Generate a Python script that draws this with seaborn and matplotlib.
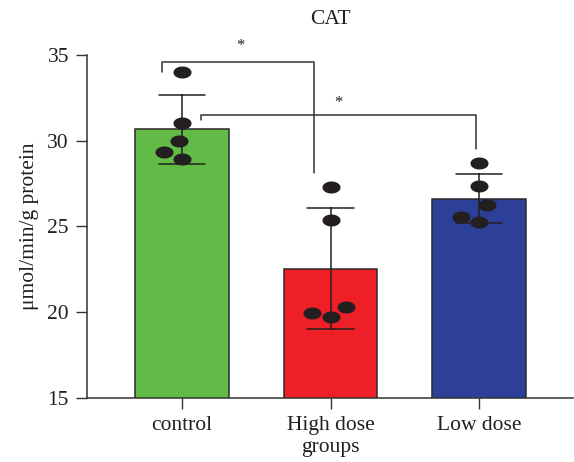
import numpy as np
import pandas as pd
import matplotlib
matplotlib.use("Agg")
import matplotlib.pyplot as plt
from matplotlib.path import Path
import seaborn as sns

# ---- data ----
groups = ["control", "High dose\ngroups", "Low dose"]
control_vals = [34.0, 31.03, 29.98, 29.34, 28.94]
high_vals = [27.29, 25.40, 20.33, 19.74, 19.94]
low_vals = [28.68, 27.38, 26.25, 25.28, 25.57]
bar_colors = ["#63BB47", "#EE1F26", "#2C4098"]
yticks = [15, 20, 25, 30, 35]

df = pd.DataFrame({
    "group": [groups[0]] * len(control_vals) + [groups[1]] * len(high_vals) + [groups[2]] * len(low_vals),
    "value": control_vals + high_vals + low_vals,
})

sns.set_theme(style="ticks")
plt.rcParams["font.family"] = ["Liberation Serif", "DejaVu Serif"]
plt.rcParams["axes.linewidth"] = 1.1
plt.rcParams["axes.edgecolor"] = "#333333"

fig = plt.figure(figsize=(5.74, 4.62), dpi=100)
ax = fig.add_axes([87 / 574, 1 - 398 / 462, (573 - 87) / 574, (398 - 55) / 462])

sns.barplot(data=df, x="group", y="value", hue="group", palette=bar_colors,
            order=groups, hue_order=groups, legend=False, saturation=1,
            errorbar="sd", capsize=0.31, width=0.63,
            err_kws={"color": "#231F20", "linewidth": 1.1},
            edgecolor="#2a2a2a", linewidth=1.1, ax=ax)

# ellipse marker
t = np.linspace(0, 2 * np.pi, 60)
ellipse = Path(np.column_stack([1.5 * np.cos(t), np.sin(t)]), closed=True)
sns.swarmplot(data=df, x="group", y="value", order=groups, color="#231F20",
              marker=ellipse, size=13, linewidth=0, zorder=4, ax=ax)

ax.set_ylim(15, 35)
ax.set_xlim(-0.637, 2.63)
ax.set_yticks(yticks)
ax.set_yticklabels([str(v) for v in yticks])
ax.tick_params(axis="both", length=8, width=1.0, color="#333333", labelsize=15.5,
               labelcolor="#231F20", pad=5)
ax.set_xlabel("")
ax.set_ylabel("μmol/min/g protein", fontsize=15.5, color="#231F20", labelpad=6)
ax.set_title("CAT", fontsize=15.5, color="#231F20", pad=22)
sns.despine(ax=ax)

# significance brackets (annotation)
bk = dict(color="#333333", linewidth=1.1, clip_on=False, zorder=5)
ax.plot([-0.13, -0.13, 0.886, 0.886], [34.01, 34.59, 34.59, 28.14], **bk)
ax.plot([0.129, 0.129, 1.978, 1.978], [31.22, 31.51, 31.51, 29.50], **bk)
ax.text(0.393, 35.5, "*", ha="center", va="center", fontsize=12, color="#231F20")
ax.text(1.056, 32.2, "*", ha="center", va="center", fontsize=12, color="#231F20")

fig.savefig("out.png", dpi=100)
